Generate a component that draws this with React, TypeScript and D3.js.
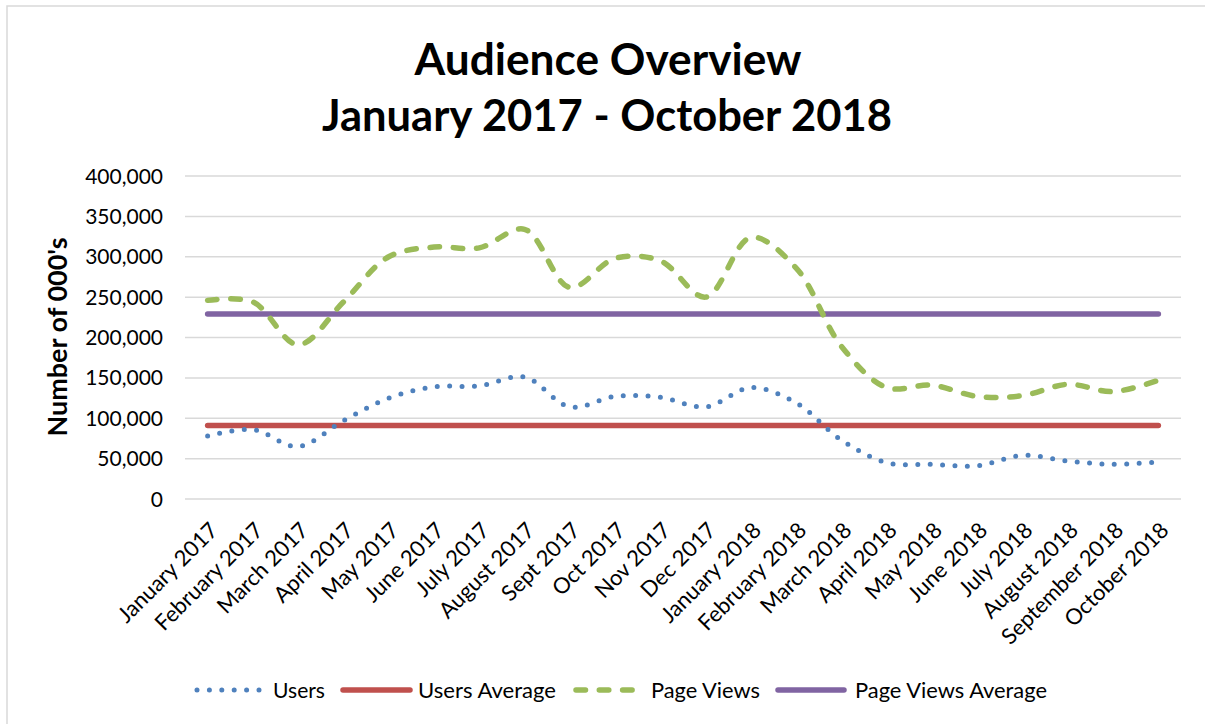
import { useEffect, useRef } from 'react';
import * as d3 from 'd3';

const categories = [
    'January 2017', 'February 2017', 'March 2017', 'April 2017', 'May 2017', 'June 2017',
    'July 2017', 'August 2017', 'Sept 2017', 'Oct 2017', 'Nov 2017', 'Dec 2017',
    'January 2018', 'February 2018', 'March 2018', 'April 2018', 'May 2018', 'June 2018',
    'July 2018', 'August 2018', 'September 2018', 'October 2018',
];

const users = [
    78000, 86000, 65000, 97000, 125000, 139000, 140000, 151000, 114000, 127000, 126000,
    114000, 138000, 119000, 73000, 45000, 43000, 41000, 54000, 47000, 43000, 46000,
];

const pageViews = [
    246000, 244000, 191000, 244000, 300000, 312000, 311000, 334000, 262000, 298000, 295000,
    250000, 324000, 286000, 189000, 138000, 141000, 127000, 128000, 142000, 133000, 147000,
];

const usersAverage = 91000;
const pageViewsAverage = 229000;

const yTicks = [0, 50000, 100000, 150000, 200000, 250000, 300000, 350000, 400000];

const FONT = 'Lato, "Open Sans", sans-serif';

export default function App() {
    const svgRef = useRef<SVGSVGElement>(null);

    useEffect(() => {
        if (!svgRef.current) return;

        const svg = d3.select(svgRef.current);
        svg.selectAll('*').remove();

        const width = 1205;
        const height = 724;

        svg.append('rect')
            .attr('width', width)
            .attr('height', height)
            .attr('fill', '#ffffff');

        // Chart frame
        svg.append('rect')
            .attr('x', 7)
            .attr('y', 6)
            .attr('width', width + 20)
            .attr('height', height + 20)
            .attr('fill', 'none')
            .attr('stroke', '#d9d9d9')
            .attr('stroke-width', 1.5);

        const x = d3.scalePoint<string>()
            .domain(categories)
            .range([185, 1181])
            .padding(0.5);

        const y = d3.scaleLinear()
            .domain([0, 400000])
            .range([499, 176]);

        // Gridlines
        svg.append('g')
            .selectAll('line')
            .data(yTicks)
            .join('line')
            .attr('x1', 185)
            .attr('x2', 1181)
            .attr('y1', d => y(d))
            .attr('y2', d => y(d))
            .attr('stroke', '#d9d9d9')
            .attr('stroke-width', 1.5);

        // Y tick labels
        svg.append('g')
            .selectAll('text')
            .data(yTicks)
            .join('text')
            .attr('x', 163)
            .attr('y', d => y(d))
            .attr('dy', '0.36em')
            .attr('text-anchor', 'end')
            .attr('font-family', FONT)
            .attr('font-size', '21px')
            .attr('fill', '#000')
            .text(d => d3.format(',')(d));

        // X tick labels
        svg.append('g')
            .selectAll('text')
            .data(categories)
            .join('text')
            .attr('transform', d => `translate(${x(d)! + 6},${526}) rotate(-45)`)
            .attr('dy', '0.36em')
            .attr('text-anchor', 'end')
            .attr('font-family', FONT)
            .attr('font-size', '22px')
            .attr('fill', '#000')
            .text(d => d);

        // Y axis title
        svg.append('text')
            .attr('transform', 'translate(58,337) rotate(-90)')
            .attr('dy', '0.36em')
            .attr('text-anchor', 'middle')
            .attr('font-family', FONT)
            .attr('font-size', '26px')
            .attr('font-weight', 700)
            .attr('textLength', 199)
            .attr('lengthAdjust', 'spacingAndGlyphs')
            .text("Number of 000's");

        // Title
        svg.append('text')
            .attr('x', 608)
            .attr('y', 75)
            .attr('text-anchor', 'middle')
            .attr('font-family', FONT)
            .attr('font-size', '44px')
            .attr('font-weight', 700)
            .attr('textLength', 387)
            .attr('lengthAdjust', 'spacingAndGlyphs')
            .text('Audience Overview');

        svg.append('text')
            .attr('x', 607)
            .attr('y', 131)
            .attr('text-anchor', 'middle')
            .attr('font-family', FONT)
            .attr('font-size', '44px')
            .attr('font-weight', 700)
            .attr('textLength', 570)
            .attr('lengthAdjust', 'spacingAndGlyphs')
            .text('January 2017 - October 2018');

        // Average lines
        const flat = d3.line<string>()
            .x(d => x(d)!);

        svg.append('path')
            .attr('d', flat.y(() => y(pageViewsAverage))(categories)!)
            .attr('fill', 'none')
            .attr('stroke', '#8064A2')
            .attr('stroke-width', 5.5)
            .attr('stroke-linecap', 'round');

        svg.append('path')
            .attr('d', flat.y(() => y(usersAverage))(categories)!)
            .attr('fill', 'none')
            .attr('stroke', '#C0504D')
            .attr('stroke-width', 5.5)
            .attr('stroke-linecap', 'round');

        // Smoothed series
        const smooth = d3.line<number>()
            .x((_, i) => x(categories[i])!)
            .y(d => y(d))
            .curve(d3.curveCatmullRom.alpha(0.5));

        svg.append('path')
            .attr('d', smooth(pageViews)!)
            .attr('fill', 'none')
            .attr('stroke', '#9BBB59')
            .attr('stroke-width', 5.5)
            .attr('stroke-linecap', 'round')
            .attr('stroke-dasharray', '9.5 13.8');

        svg.append('path')
            .attr('d', smooth(users)!)
            .attr('fill', 'none')
            .attr('stroke', '#4F81BD')
            .attr('stroke-width', 5)
            .attr('stroke-linecap', 'round')
            .attr('stroke-dasharray', '0 12.4');

        // Legend
        const legendY = 690;
        const legend = [
            { name: 'Users', x1: 197, x2: 259, tx: 273, tw: 52, color: '#4F81BD', width: 5, dash: '0 12.4' },
            { name: 'Users Average', x1: 343, x2: 410, tx: 418, tw: 138, color: '#C0504D', width: 5.5, dash: null },
            { name: 'Page Views', x1: 576, x2: 637, tx: 651, tw: 109, color: '#9BBB59', width: 5.5, dash: '9.5 13.8' },
            { name: 'Page Views Average', x1: 778, x2: 844, tx: 855, tw: 192, color: '#8064A2', width: 5.5, dash: null },
        ];

        const lg = svg.append('g');
        legend.forEach(item => {
            lg.append('line')
                .attr('x1', item.x1)
                .attr('x2', item.x2)
                .attr('y1', legendY)
                .attr('y2', legendY)
                .attr('stroke', item.color)
                .attr('stroke-width', item.width)
                .attr('stroke-linecap', 'round')
                .attr('stroke-dasharray', item.dash);

            lg.append('text')
                .attr('x', item.tx)
                .attr('y', legendY)
                .attr('dy', '0.36em')
                .attr('font-family', FONT)
                .attr('font-size', '22px')
                .attr('fill', '#000')
                .attr('textLength', item.tw)
                .attr('lengthAdjust', 'spacingAndGlyphs')
                .text(item.name);
        });
    }, []);

    return (
        <svg
            ref={svgRef}
            width="1205"
            height="724"
            style={{ position: 'absolute', left: 0, top: 0 }}
        />
    );
}
